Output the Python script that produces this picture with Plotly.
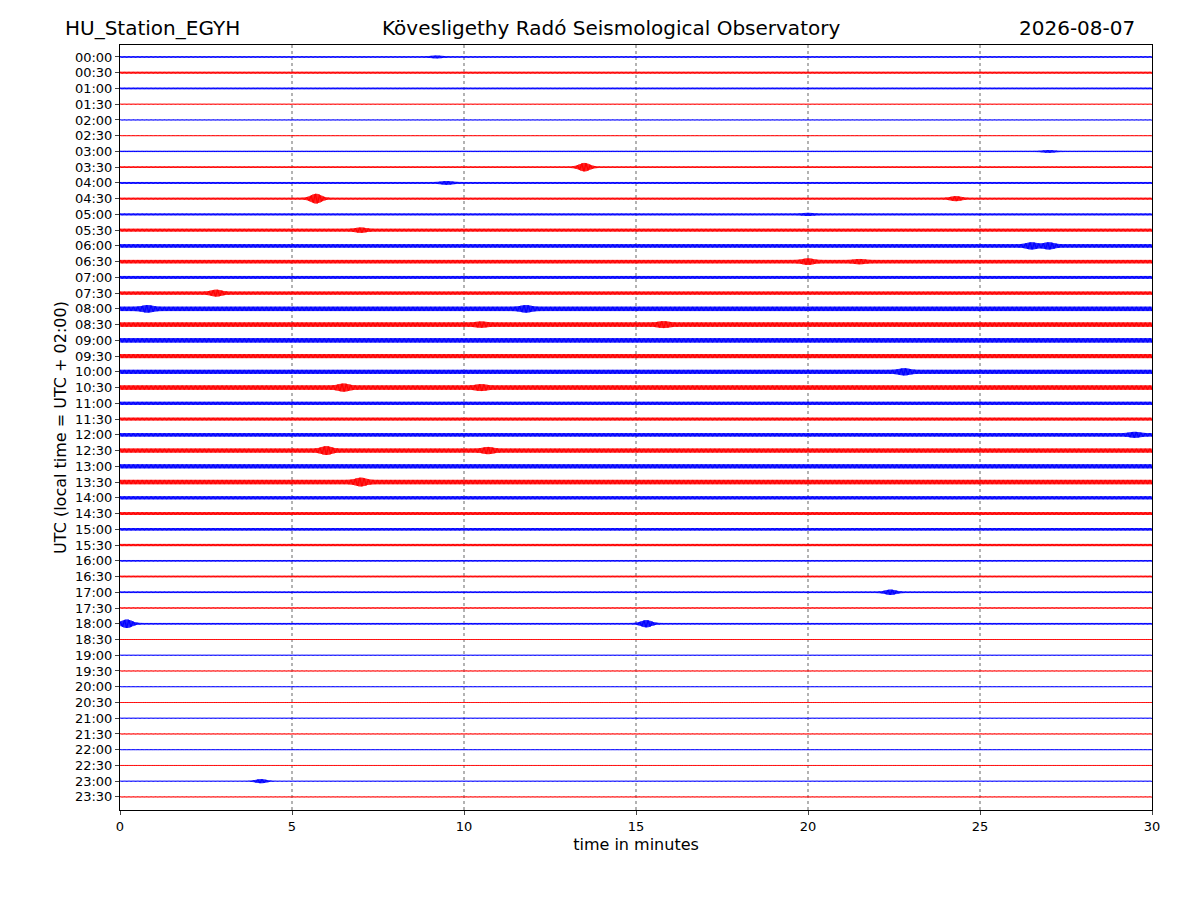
import numpy as np
import plotly.graph_objects as go

station = "HU_Station_EGYH"
title = "Kövesligethy Radó Seismological Observatory"
date = "2026-08-07"
row_labels = [f"{h:02d}:{m:02d}" for h in range(24) for m in (0, 30)]
# base half-amplitude of each trace (in row units)
base_amp = [0.05, 0.06, 0.05, 0.03, 0.03, 0.03, 0.04, 0.05, 0.06, 0.06, 0.06, 0.09,
            0.11, 0.11, 0.09, 0.1, 0.14, 0.14, 0.14, 0.13, 0.13, 0.14, 0.1, 0.09,
            0.11, 0.13, 0.13, 0.14, 0.1, 0.09, 0.08, 0.07, 0.05, 0.05, 0.05, 0.04,
            0.05, 0.03, 0.03, 0.03, 0.03, 0.03, 0.03, 0.03, 0.03, 0.03, 0.03, 0.03]
# events: (row index, minute, extra amplitude)
events = [(0, 9.2, 0.04), (6, 27.0, 0.05), (7, 13.5, 0.22), (8, 9.5, 0.06), (9, 5.7, 0.25),
          (9, 24.3, 0.1), (10, 20.0, 0.04), (11, 7.0, 0.08), (12, 26.5, 0.12), (12, 27.0, 0.12),
          (13, 20.0, 0.1), (13, 21.5, 0.06), (15, 2.8, 0.12), (16, 0.8, 0.1), (16, 11.8, 0.1),
          (17, 10.5, 0.06), (17, 15.8, 0.08), (20, 22.8, 0.1), (21, 6.5, 0.12), (21, 10.5, 0.08),
          (24, 29.5, 0.08), (25, 6.0, 0.15), (25, 10.7, 0.1), (27, 7.0, 0.14),
          (34, 22.4, 0.12), (36, 0.2, 0.22), (36, 15.3, 0.18), (46, 4.1, 0.1)]

fig = go.Figure()
n = 1600
x = np.linspace(0, 30, n)
sign = np.where(np.arange(n) % 2 == 0, 1.0, -1.0)
for i, b in enumerate(base_amp):
    env = np.full(n, b)
    for (r, t, a) in events:
        if r == i:
            env = env + a * np.exp(-((x - t) / 0.2) ** 2)
    y = i + sign * env
    fig.add_trace(go.Scatter(x=x, y=y, mode="lines", hoverinfo="skip",
                             line=dict(color="blue" if i % 2 == 0 else "red", width=1),
                             showlegend=False))

for gx in [5, 10, 15, 20, 25]:
    fig.add_shape(type="line", x0=gx, x1=gx, y0=0, y1=1, yref="paper",
                  line=dict(color="black", width=0.6, dash="dot"), layer="below")

W, H = 1032.0, 765.0
def px(xp):
    return (xp - 120) / W
def py(yp):
    return (810 - yp) / H

fig.update_layout(
    width=1200, height=900, plot_bgcolor="white", paper_bgcolor="white",
    margin=dict(l=112, r=56, t=37, b=98, autoexpand=False),
    font=dict(family="DejaVu Sans", color="black", size=13),
    xaxis=dict(range=[0, 30], tickvals=[0, 5, 10, 15, 20, 25, 30], showgrid=False,
               zeroline=False, showline=True, linecolor="black", mirror=True,
               ticks="outside", ticklen=4, title=dict(text="time in minutes", standoff=6)),
    yaxis=dict(range=[47.83, -0.76], tickvals=list(range(48)), ticktext=row_labels,
               showgrid=False, zeroline=False, showline=True, linecolor="black", mirror=True,
               ticks="outside", ticklen=4,
               title=dict(text="UTC (local time = UTC + 02:00)", standoff=4)),
)
fig.add_annotation(text=station, x=px(63), y=py(28), xref="paper", yref="paper",
                   showarrow=False, xanchor="left", yanchor="middle", font=dict(size=20))
fig.add_annotation(text=title, x=px(611), y=py(28), xref="paper", yref="paper",
                   showarrow=False, xanchor="center", yanchor="middle", font=dict(size=20))
fig.add_annotation(text=date, x=px(1137), y=py(28), xref="paper", yref="paper",
                   showarrow=False, xanchor="right", yanchor="middle", font=dict(size=20))
fig.write_html("out.html")
